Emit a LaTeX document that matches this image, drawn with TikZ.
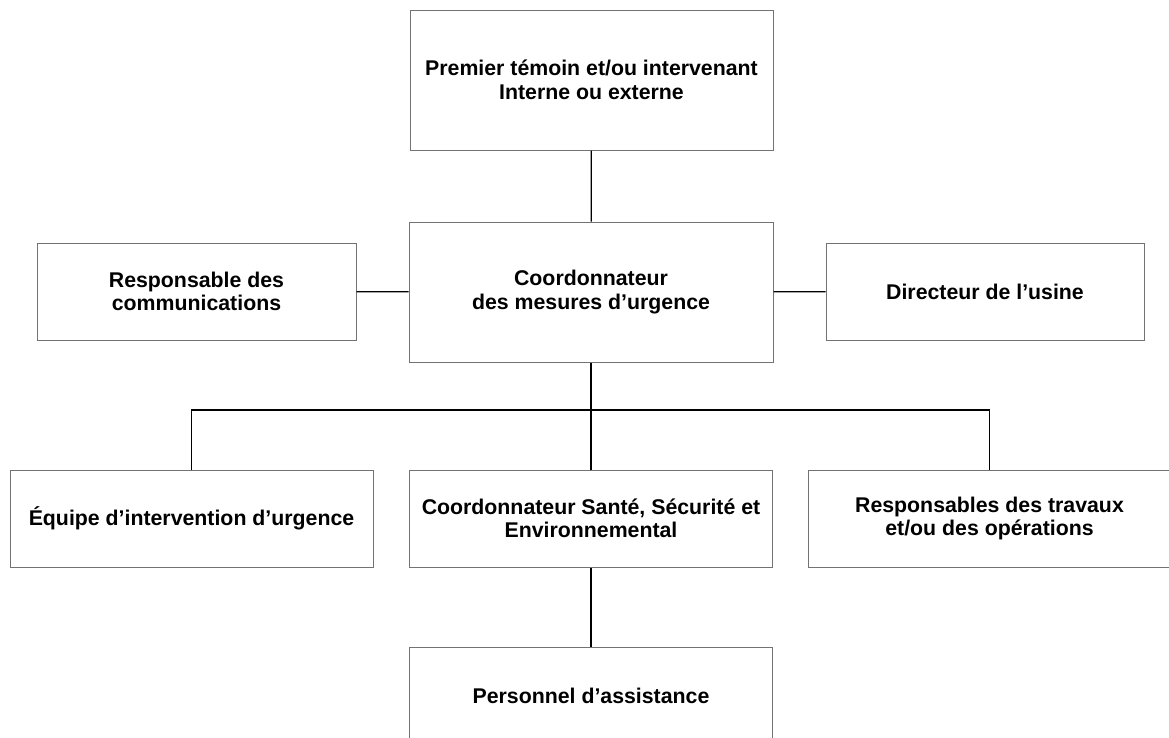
\documentclass[tikz,border=0pt]{standalone}
\usepackage{fontspec}
\setmainfont{Liberation Sans}
\begin{document}
\begin{tikzpicture}
[x=1pt, y=-1pt, font=\fontsize{21.3}{23.5}\selectfont\bfseries]
\tikzstyle{box}=[rectangle, draw=black!55, line width=1pt, fill=white, align=center, inner sep=0pt, minimum height=97pt]
\tikzstyle{wide}=[box, minimum width=363pt]
\tikzstyle{link}=[line width=1.2pt, black]
\useasboundingbox (0,0) rectangle (1169,737);

\node[wide]	(witness)	at (591.5,80)	[minimum height=140pt]	{Premier témoin et/ou intervenant\\Interne ou externe};
\node[wide]	(coord)	at (591,292)	[minimum width=364pt, minimum height=140pt]	{Coordonnateur\\des mesures d’urgence};
\node[box]	(comm)	at (196.5,291.5)	[minimum width=319pt]	{Responsable des\\communications};
\node[box]	(dir)	at (985,291.5)	[minimum width=318pt]	{Directeur de l’usine};

\node[wide]	(team)	at (191.5,518.5)	{Équipe d’intervention d’urgence};
\node[wide]	(hse)	at (591,518.5)	{Coordonnateur Santé, Sécurité et\\Environnemental};
\node[wide]	(works)	at (989.5,518.5)	{Responsables des travaux\\et/ou des opérations};
\node[wide]	(staff)	at (591,695.5)	{Personnel d’assistance};

\coordinate	(bus)	at (591,410);

\draw [link] (witness)--(coord);
\draw [link] (comm)--(coord)--(dir);
\draw [link] (coord)--(bus)--(hse);
\draw [link] (team.north) |- (bus) -| (works.north);
\draw [link] (hse)--(staff);

\end{tikzpicture}
\end{document}
